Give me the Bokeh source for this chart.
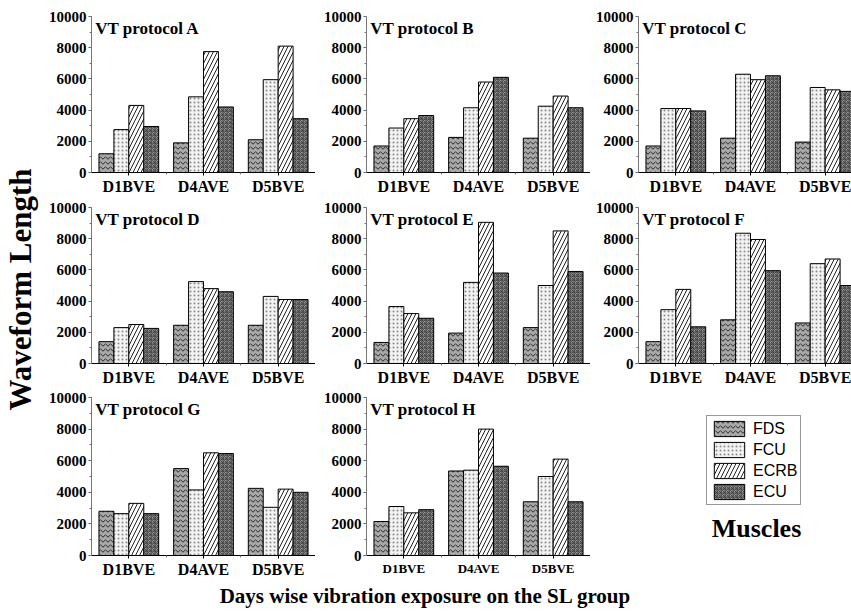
from math import pi

import numpy as np
from bokeh.embed import file_html
from bokeh.layouts import column, row
from bokeh.models import (ColumnDataSource, FixedTicker, Label, Legend,
                          LegendItem, Range1d, SingleIntervalTicker)
from bokeh.plotting import figure
from bokeh.resources import INLINE

# Exposure days on the x axis and muscles within each group
days = ["D1BVE", "D4AVE", "D5BVE"]
muscles = ["FDS", "FCU", "ECRB", "ECU"]

# Waveform length per protocol: one list per muscle, values by day
vt_a = [[1200, 1900, 2100], [2750, 4850, 5950], [4300, 7750, 8100], [2950, 4200, 3450]]
vt_b = [[1700, 2250, 2200], [2850, 4150, 4250], [3450, 5800, 4900], [3650, 6100, 4150]]
vt_c = [[1700, 2200, 1950], [4100, 6300, 5450], [4100, 5950, 5300], [3950, 6200, 5200]]
vt_d = [[1400, 2450, 2450], [2300, 5250, 4300], [2500, 4800, 4100], [2250, 4600, 4100]]
vt_e = [[1350, 1950, 2300], [3650, 5200, 5000], [3200, 9050, 8500], [2900, 5800, 5900]]
vt_f = [[1400, 2800, 2600], [3450, 8350, 6400], [4750, 7950, 6700], [2350, 5950, 5000]]
vt_g = [[2800, 5500, 4250], [2650, 4150, 3050], [3300, 6500, 4200], [2650, 6450, 4000]]
vt_h = [[2150, 5350, 3400], [3100, 5400, 5000], [2700, 8000, 6100], [2900, 5650, 3400]]

SERIF = "Liberation Serif"
SANS = "Liberation Sans"

# Fill / hatch styling for each muscle
styles = {
    "FDS": dict(fill_color="#a8a8a8", hatch_pattern="horizontal_wave", hatch_color="#2a2a2a",
                hatch_scale=5, hatch_weight=1),
    "FCU": dict(fill_color="#f2f2f2", hatch_pattern="dot", hatch_color="#8a8a8a",
                hatch_scale=4, hatch_weight=1),
    "ECRB": dict(fill_color="white", hatch_pattern="right_diagonal_line", hatch_color="#222222",
                 hatch_scale=8, hatch_weight=1),
    "ECU": dict(fill_color="#9a9a9a", hatch_pattern="criss_cross", hatch_color="#444444",
                hatch_scale=4, hatch_weight=1),
}

BAR_W = 0.2


def panel(letter, data, border_left, frame_w, top, frame_h, bottom, x_end, cat_size="16px"):
    p = figure(width=border_left + frame_w, height=top + frame_h + bottom,
               x_range=Range1d(0, x_end), y_range=Range1d(0, 10000),
               output_backend="svg", toolbar_location=None,
               min_border_left=border_left, min_border_right=0,
               min_border_top=top, min_border_bottom=bottom)
    p.outline_line_color = None
    p.grid.visible = False
    p.background_fill_color = "white"
    p.border_fill_color = "white"

    for j, m in enumerate(muscles):
        xs = [i + 0.5 + (j - 1.5) * BAR_W for i in range(len(days))]
        src = ColumnDataSource(dict(x=xs, top=data[j]))
        p.vbar(x="x", top="top", width=BAR_W, source=src,
               line_color="black", line_width=1, **styles[m])

    p.xaxis.ticker = FixedTicker(ticks=[i + 0.5 for i in range(len(days))],
                                 minor_ticks=[i for i in range(1, len(days))])
    p.xaxis.major_label_overrides = {i + 0.5: d for i, d in enumerate(days)}
    p.yaxis.ticker = SingleIntervalTicker(interval=2000, num_minor_ticks=2)

    for ax in (p.xaxis[0], p.yaxis[0]):
        ax.major_tick_in = 0
        ax.major_tick_out = 3
        ax.minor_tick_in = 0
        ax.minor_tick_out = 2
        ax.major_label_text_font = SERIF
        ax.major_label_text_font_style = "bold"
        ax.major_label_text_color = "black"
    p.yaxis.major_label_text_font_size = "15px"
    p.xaxis.major_label_text_font_size = cat_size
    p.xaxis.axis_line_color = "black"
    p.xaxis.major_tick_line_color = "black"
    p.xaxis.minor_tick_line_color = "#777777"
    p.yaxis.axis_line_color = "#777777"
    p.yaxis.major_tick_line_color = "#555555"
    p.yaxis.minor_tick_line_color = "#777777"
    p.xaxis.major_label_standoff = 2
    p.yaxis.major_label_standoff = 2

    p.add_layout(Label(x=0.05, y=9820, text="VT protocol " + letter,
                       text_font=SERIF, text_font_style="bold", text_font_size="17px",
                       text_baseline="top", text_align="left", text_color="black"))
    return p


FW = 224
FW_LAST = 213
X_FULL = 3.0
X_LAST = 3.0 * FW_LAST / FW

# row geometry: (top border, frame height, bottom border)
r1 = (16, 156, 25)
r2 = (10, 156, 25)
r3 = (9, 158, 25)

pa = panel("A", vt_a, 51, FW, *r1, X_FULL)
pb = panel("B", vt_b, 51, FW, *r1, X_FULL)
pc = panel("C", vt_c, 48, FW_LAST, *r1, X_LAST)
pd = panel("D", vt_d, 51, FW, *r2, X_FULL)
pe = panel("E", vt_e, 51, FW, *r2, X_FULL)
pf = panel("F", vt_f, 48, FW_LAST, *r2, X_LAST)
pg = panel("G", vt_g, 51, FW, *r3, X_FULL)
ph = panel("H", vt_h, 51, FW, *r3, X_FULL, cat_size="13px")

# legend cell, sharing the row's borders so the frames line up
LW = 261
top3, fh3, bot3 = r3
pl = figure(width=LW, height=sum(r3), x_range=Range1d(0, LW), y_range=Range1d(0, fh3),
            output_backend="svg", toolbar_location=None,
            min_border_left=0, min_border_right=0, min_border_top=top3,
            min_border_bottom=bot3, x_axis_location=None, y_axis_location=None)
pl.outline_line_color = None
pl.grid.visible = False
items = []
for m in muscles:
    # legend proxy with no drawable point
    r = pl.vbar(x=np.array([np.nan]), top=np.array([np.nan]), width=1,
                line_color="black", line_width=1, **styles[m])
    items.append(LegendItem(label=m, renderers=[r]))
legend = Legend(items=items, location=(116, 50),
                glyph_width=38, glyph_height=19, spacing=2, padding=3, margin=0,
                label_standoff=5, label_text_font=SANS, label_text_font_size="16px",
                label_text_color="black", label_height=19,
                border_line_color="#333333", border_line_width=1,
                background_fill_color="white", background_fill_alpha=1)
pl.add_layout(legend)
pl.add_layout(Label(x=166, y=27, text="Muscles", text_font=SERIF,
                    text_font_style="bold", text_font_size="26px",
                    text_align="center", text_baseline="middle", text_color="black"))

# shared axis titles
TOTAL_H = sum(r1) + sum(r2) + sum(r3)
py = figure(width=40, height=TOTAL_H, x_range=Range1d(0, 40), y_range=Range1d(0, TOTAL_H),
            output_backend="svg", toolbar_location=None, min_border=0,
            x_axis_location=None, y_axis_location=None)
py.outline_line_color = None
py.grid.visible = False
py.add_layout(Label(x=20, y=TOTAL_H - 289, text="Waveform Length", angle=pi / 2,
                    text_font=SERIF, text_font_style="bold", text_font_size="31px",
                    text_align="center", text_baseline="middle", text_color="black"))

XH = 612 - TOTAL_H
px = figure(width=851, height=XH, x_range=Range1d(0, 851), y_range=Range1d(0, XH),
            output_backend="svg", toolbar_location=None, min_border=0,
            x_axis_location=None, y_axis_location=None)
px.outline_line_color = None
px.grid.visible = False
px.add_layout(Label(x=425, y=XH - (595 - TOTAL_H), text="Days wise vibration exposure on the SL group",
                    text_font=SERIF, text_font_style="bold", text_font_size="21px",
                    text_align="center", text_baseline="middle", text_color="black"))

grid = column(row(pa, pb, pc), row(pd, pe, pf), row(pg, ph, pl))
layout = column(row(py, grid), px)

open("out.html", "w").write(file_html(layout, INLINE))
